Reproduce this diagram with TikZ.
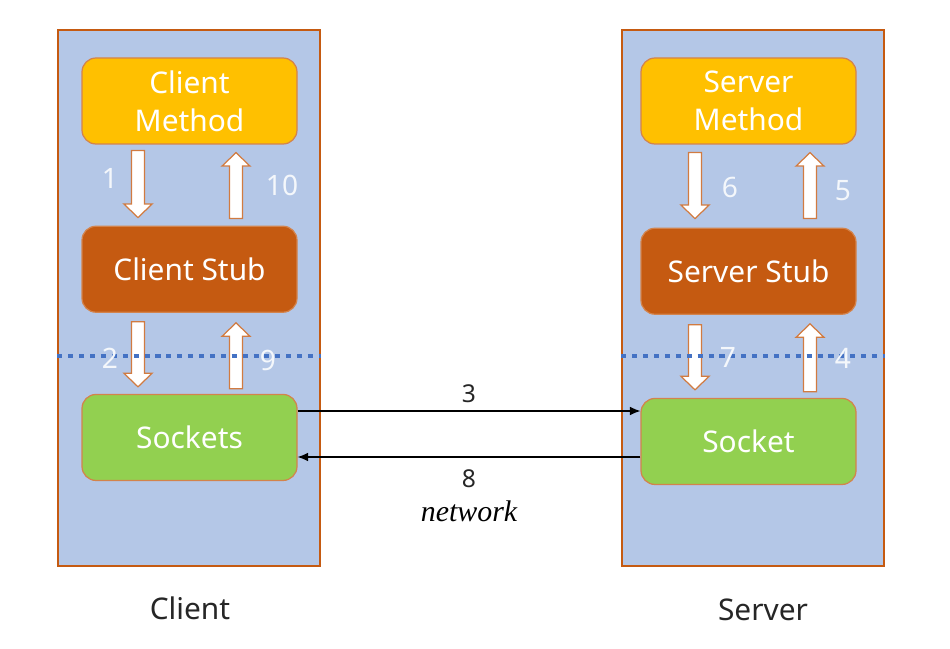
\documentclass[tikz,border=0pt]{standalone}
\usepackage{fontspec}
\setsansfont{Noto Sans}
\newfontfamily\netfont{Liberation Serif}
\usepackage{tikz}
\usetikzlibrary{arrows.meta, positioning, calc}
\definecolor{panelblue}{HTML}{B4C7E7}
\definecolor{rustline}{HTML}{C55A11}
\definecolor{methodgold}{HTML}{FFC000}
\definecolor{stubrust}{HTML}{C55A11}
\definecolor{sockgreen}{HTML}{92D050}
\definecolor{dotblue}{HTML}{4472C4}
\tikzset{
  panel/.style={rectangle, draw=rustline, fill=panelblue, line width=0.7pt,
                minimum width=5.24cm, minimum height=10.72cm, inner sep=0pt},
  box/.style={rectangle, rounded corners=0.28cm, draw=rustline!75, line width=0.7pt,
              minimum width=4.3cm, minimum height=1.72cm, align=center, text=white,
              font=\sffamily\fontsize{17}{21.5}\selectfont},
  methodbox/.style={box, fill=methodgold},
  stubbox/.style={box, fill=stubrust},
  sockbox/.style={box, fill=sockgreen},
  fatarr/.style={draw=rustline!80, fill=white, line width=0.7pt, line join=miter},
  dotline/.style={dotblue, line width=2.8pt, dash pattern=on 2.9pt off 3.3pt},
  netarrow/.style={-{Latex[length=6pt,width=5pt]}, line width=0.7pt, black},
  steplabel/.style={text=white!85!panelblue, font=\sffamily\fontsize{16}{19}\selectfont},
  netlabel/.style={text=black!85, font=\sffamily\fontsize{14}{17}\selectfont},
  sidelabel/.style={text=black!85, font=\sffamily\fontsize{17}{20}\selectfont},
}
% hollow block arrow from #1 to #2 (vertical)
\newcommand{\fatarrow}[2]{%
  \draw[fatarr] let \p1=#1, \p2=#2, \n1={sign(\y2-\y1)} in
    ({\x1-0.13cm},\y1) -- ({\x1-0.13cm},{\y2-\n1*0.27cm}) -- ({\x1-0.28cm},{\y2-\n1*0.27cm})
    -- (\x1,\y2) -- ({\x1+0.28cm},{\y2-\n1*0.27cm}) -- ({\x1+0.13cm},{\y2-\n1*0.27cm})
    -- ({\x1+0.13cm},\y1) -- cycle;
}
\begin{document}
\begin{tikzpicture}
  \useasboundingbox (0,0) rectangle (19,12.96);

  % panels
  \node[panel] (clientPanel) at (3.78,7.0) {};
  \node[panel] (serverPanel) at (15.06,7.0) {};

  % client column
  \node[methodbox] (cmethod) at (3.79,10.94) {Client\\Method};
  \node[stubbox, below=1.62cm of cmethod] (cstub) {Client Stub};
  \node[sockbox, below=1.62cm of cstub] (csock) {Sockets};

  % server column
  \node[methodbox] (smethod) at (14.97,10.94) {Server\\Method};
  \node[stubbox, below=1.66cm of smethod] (sstub) {Server Stub};
  \node[sockbox, below=1.66cm of sstub] (ssock) {Socket};

  % block arrows
  \fatarrow{($(cmethod.south)+(-1.03,-0.12)$)}{($(cstub.north)+(-1.03,0.16)$)}
  \fatarrow{($(cstub.north)+(0.93,0.14)$)}{($(cmethod.south)+(0.93,-0.16)$)}
  \fatarrow{($(cstub.south)+(-1.03,-0.18)$)}{($(csock.north)+(-1.03,0.14)$)}
  \fatarrow{($(csock.north)+(0.93,0.10)$)}{($(cstub.south)+(0.93,-0.20)$)}
  \fatarrow{($(smethod.south)+(-1.07,-0.16)$)}{($(sstub.north)+(-1.07,0.18)$)}
  \fatarrow{($(sstub.north)+(1.23,0.18)$)}{($(smethod.south)+(1.23,-0.16)$)}
  \fatarrow{($(sstub.south)+(-1.07,-0.20)$)}{($(ssock.north)+(-1.07,0.16)$)}
  \fatarrow{($(ssock.north)+(1.23,0.12)$)}{($(sstub.south)+(1.23,-0.18)$)}

  % dotted cut
  \coordinate (cut) at (0,5.84);
  \draw[dotline] (clientPanel.west |- cut) -- (clientPanel.east |- cut);
  \draw[dotline] (serverPanel.west |- cut) -- (serverPanel.east |- cut);

  % step numbers
  \node[steplabel] (s1) at (2.2,9.4) {1};
  \node[steplabel] (s10) at (5.64,9.26) {10};
  \node[steplabel] (s2) at (2.2,5.8) {2};
  \node[steplabel] (s9) at (5.36,5.76) {9};
  \node[steplabel] (s6) at (14.6,9.22) {6};
  \node[steplabel] (s5) at (16.86,9.14) {5};
  \node[steplabel] (s7) at (14.56,5.82) {7};
  \node[steplabel] (s4) at (16.86,5.8) {4};

  % network
  \coordinate (upper) at (0,4.74);
  \coordinate (lower) at (0,3.82);
  \draw[netarrow] (csock.east |- upper) -- (ssock.west |- upper)
    node[midway, above=1pt, netlabel] (n3) {3};
  \draw[netarrow] (ssock.west |- lower) -- (csock.east |- lower)
    node[midway, below=3.5pt, netlabel] (n8) {8};
  \node[below=0pt of n8, font=\netfont\itshape\fontsize{17}{20}\selectfont] (net) {network};

  % side labels
  \node[sidelabel] (clientLbl) at (3.8,0.8) {Client};
  \node[sidelabel] (serverLbl) at (15.26,0.76) {Server};

\end{tikzpicture}
\end{document}
